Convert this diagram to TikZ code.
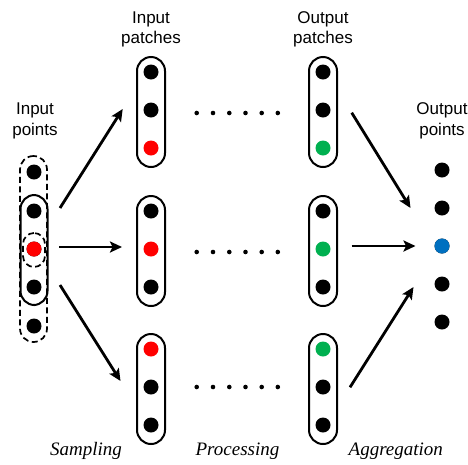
\documentclass[tikz,border=0pt]{standalone}
\usepackage{fontspec}
\setmainfont{Liberation Serif}
\newfontfamily\labelfont{Liberation Sans}
\usetikzlibrary{arrows.meta}
\definecolor{ptred}{RGB}{255,0,0}
\definecolor{ptgreen}{RGB}{0,176,80}
\definecolor{ptblue}{RGB}{0,112,192}
\begin{document}
\begin{tikzpicture}[x=1pt,y=-1pt,
  dot/.style={circle,fill=#1,inner sep=0pt,minimum size=15pt},
  dot/.default=black,
  sdot/.style={circle,fill=black,inner sep=0pt,minimum size=4.6pt},
  capsule/.style={draw,line width=2pt,rounded corners=14pt,minimum width=28pt,minimum height=110pt,inner sep=0pt},
  dashcap/.style={draw,line width=1.7pt,dash pattern=on 6pt off 3.5pt},
  arr/.style={line width=2.8pt,-{Stealth[length=12pt,width=11pt,inset=2.5pt]}},
  lab/.style={font=\labelfont\fontsize{17}{20.5}\selectfont,align=center},
  stage/.style={font=\itshape\fontsize{19}{22}\selectfont}
]
\useasboundingbox (0,0) rectangle (468,464);

% input point cloud with its sampling windows
\foreach \i/\y in {1/172,2/211,3/249,4/287,5/326}{
  \node[dot] (in\i) at (34,\y) {};
}
\node[dot=ptred] (in3) at (34,249) {};
\node[dashcap,rounded corners=13.5pt,minimum width=27pt,minimum height=186pt,inner sep=0pt] (outwin) at (33.5,249) {};
\node[capsule,minimum width=27pt] (inwin) at (34,250) {};
\node[dashcap,rounded corners=11pt,minimum width=22pt,minimum height=34pt,inner sep=0pt] (centre) at (34,250) {};

% patches: input column and output column
\foreach \r/\c in {1/56,2/195,3/333}{
  \node[capsule,anchor=north] (ip\r) at (151,\c) {};
  \node[capsule,anchor=north] (op\r) at (323,\c) {};
}
\foreach \r/\y/\ia/\ib/\ic/\oa/\ob/\oc in {
  1/72/black/black/ptred/black/black/ptgreen,
  2/211/black/ptred/black/black/ptgreen/black,
  3/349/ptred/black/black/ptgreen/black/black}{
  \node[dot=\ia] (ip\r a) at (151,\y) {};
  \node[dot=\ib] (ip\r b) at (151,\y+38) {};
  \node[dot=\ic] (ip\r c) at (151,\y+76) {};
  \node[dot=\oa] (op\r a) at (323,\y) {};
  \node[dot=\ob] (op\r b) at (323,\y+38) {};
  \node[dot=\oc] (op\r c) at (323,\y+76) {};
}

% processing ellipses
\foreach \r/\y in {1/113,2/252,3/387}{
  \foreach \k/\x in {1/196.7,2/213,3/229.3,4/245.5,5/261.7,6/277.8}{
    \node[sdot] (e\r\k) at (\x,\y) {};
  }
}

% aggregated output points
\foreach \i/\y in {1/170,2/208,3/246,4/284,5/322}{
  \node[dot] (out\i) at (442,\y) {};
}
\node[dot=ptblue] (out3) at (442,246) {};

% arrow end points
\coordinate (s1a) at (60,208);   \coordinate (s1b) at (122.7,109);
\coordinate (s2a) at (59.3,247); \coordinate (s2b) at (122,247);
\coordinate (s3a) at (60,285);   \coordinate (s3b) at (120.5,381);
\coordinate (g1a) at (351.7,112.7); \coordinate (g1b) at (410.5,208);
\coordinate (g2a) at (351.7,246);   \coordinate (g2b) at (415.5,246);
\coordinate (g3a) at (350,387.3);   \coordinate (g3b) at (413.5,287);

\draw[arr] (s1a) -- (s1b);
\draw[arr] (s2a) -- (s2b);
\draw[arr] (s3a) -- (s3b);
\draw[arr] (g1a) -- (g1b);
\draw[arr] (g2a) -- (g2b);
\draw[arr] (g3a) -- (g3b);

% column headings
\node[lab] (hin)  at (35,121)  {Input\\points};
\node[lab] (hip)  at (151,29.5)  {Input\\patches};
\node[lab] (hop)  at (323,29.5)  {Output\\patches};
\node[lab] (hout) at (442,121) {Output\\points};

% stage names
\node[stage] (t1) at (86,451)    {Sampling};
\node[stage] (t2) at (237.5,451) {Processing};
\node[stage] (t3) at (395.8,451) {Aggregation};
\end{tikzpicture}
\end{document}
